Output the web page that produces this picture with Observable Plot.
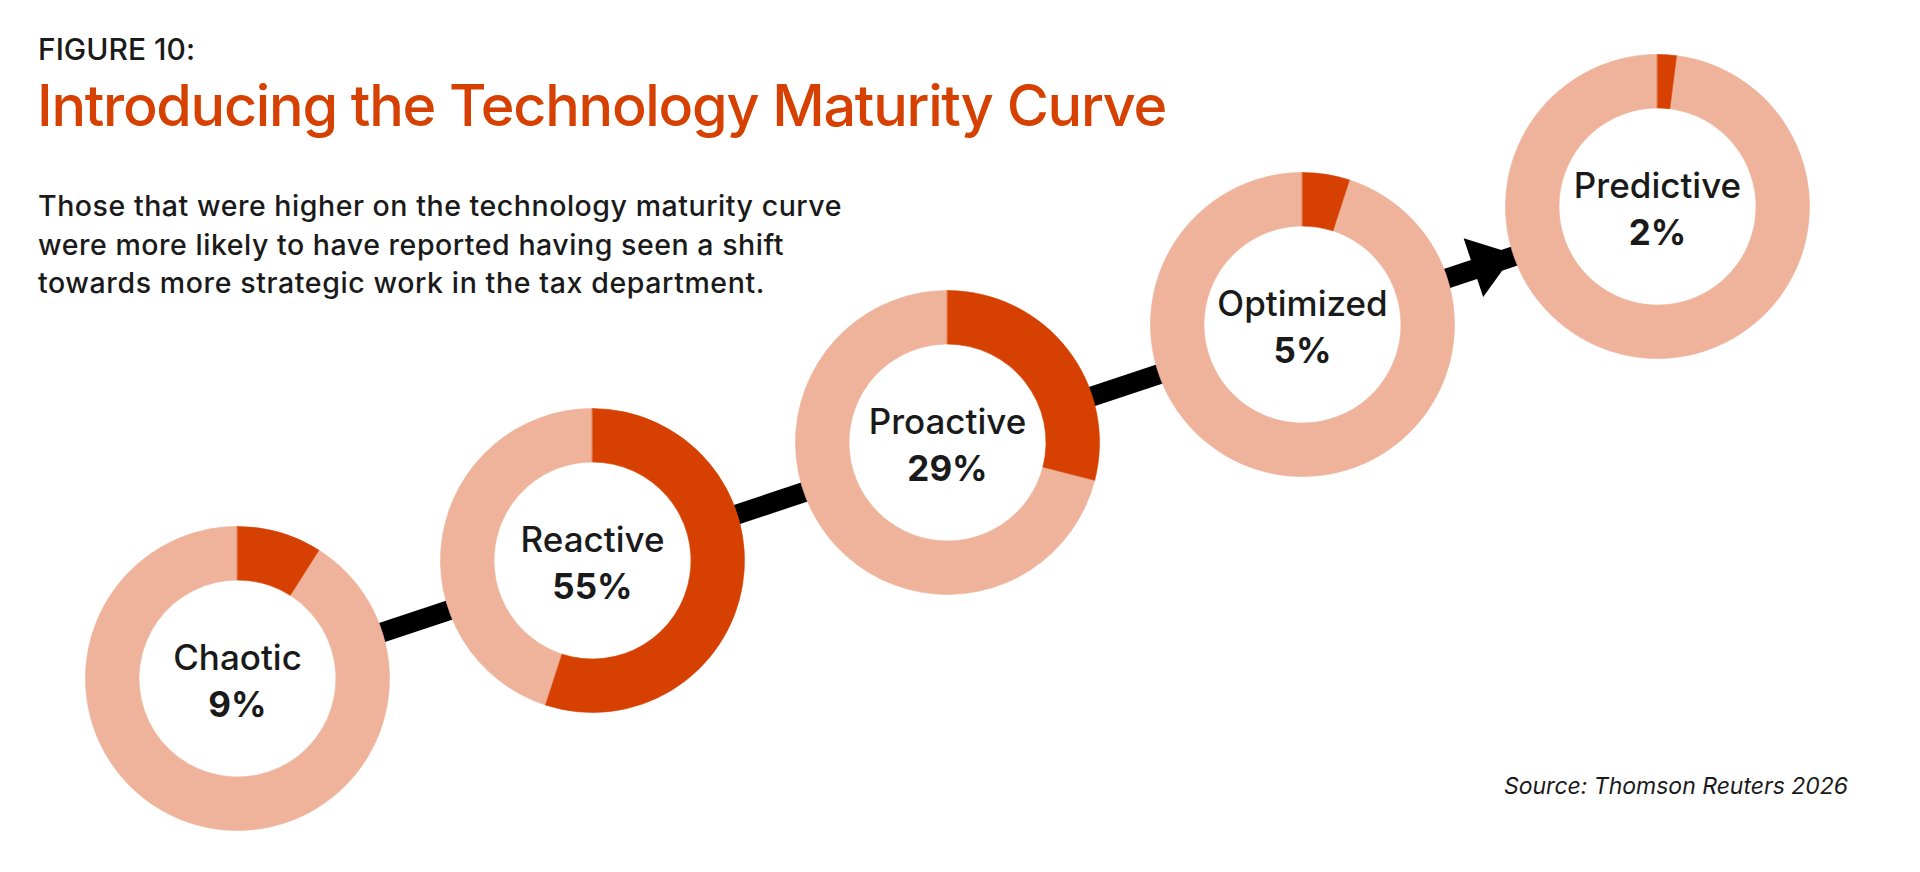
<!DOCTYPE html>
<html>
<head>
<meta charset="utf-8">
<script src="https://cdn.jsdelivr.net/npm/d3@7"></script>
<script src="https://cdn.jsdelivr.net/npm/@observablehq/plot@0.6"></script>
<style>
  html, body { margin: 0; padding: 0; background: #fff; }
  #wrap { position: relative; width: 1920px; height: 872px; overflow: hidden; font-family: Inter, "Noto Sans", sans-serif; color: #1a1a1a; }
  #wrap svg { position: absolute; left: 0; top: 0; }
  .t { position: absolute; white-space: nowrap; line-height: 1; }
  #fig { left: 38px; top: 34px; font-size: 30px; font-weight: 500; }
  #title { left: 37px; top: 77px; font-size: 57.5px; font-weight: 550; color: #D64000; }
  #sub { position: absolute; left: 38px; top: 187px; font-size: 28.5px; font-weight: 500; line-height: 38.5px; }
  #sub div { white-space: nowrap; }
  #src { right: 72px; top: 775px; font-size: 23px; font-style: italic; font-weight: 400; }
</style>
</head>
<body>
<div id="wrap"></div>
<script>
// ---- data ----
const stages = ["Chaotic", "Reactive", "Proactive", "Optimized", "Predictive"];
const shares = [9, 55, 29, 5, 2];
const arrowFrom = "Chaotic";
const arrowTo = "Predictive";
const figureLabel = "FIGURE 10:";
const titleText = "Introducing the Technology Maturity Curve";
const subtitleLines = [
  "Those that were higher on the technology maturity curve",
  "were more likely to have reported having seen a shift",
  "towards more strategic work in the tax department."
];
const sourceText = "Source: Thomson Reuters 2026";

// ---- layout / style ----
const W = 1920, H = 872;
const X_RANGE = [236, 1657];
const Y_RANGE = [678, 206];
const R_OUT = 152, R_IN = 98.5;
const DARK = "#D64000", LIGHT = "#EEB39A";

const table = stages.map((s, i) => ({stage: s, share: shares[i]}));

const ringShape = {
  draw(ctx, l) {
    const a0 = -Math.PI / 2, a1 = a0 + (l / 100) * 2 * Math.PI;
    ctx.moveTo(R_OUT * Math.cos(a0), R_OUT * Math.sin(a0));
    ctx.arc(0, 0, R_OUT, a0, a1);
    ctx.lineTo(R_IN * Math.cos(a1), R_IN * Math.sin(a1));
    ctx.arc(0, 0, R_IN, a1, a0, true);
    ctx.closePath();
  }
};
const headShape = {
  draw(ctx) {
    ctx.moveTo(0, -R_OUT + 1);
    ctx.lineTo(31, -R_OUT - 42);
    ctx.lineTo(-31, -R_OUT - 42);
    ctx.closePath();
  }
};
const dx = X_RANGE[0] - X_RANGE[1], dy = Y_RANGE[0] - Y_RANGE[1];
const backAngle = Math.atan2(dx, -dy) * 180 / Math.PI;

const chart = Plot.plot({
  width: W,
  height: H,
  margin: 0,
  x: {type: "point", domain: stages, range: X_RANGE, padding: 0, axis: null},
  y: {type: "point", domain: stages, range: Y_RANGE, padding: 0, axis: null},
  length: {type: "linear", domain: [0, 100], range: [0, 100]},
  style: {background: "transparent", overflow: "visible"},
  marks: [
    Plot.link([{from: arrowFrom, to: arrowTo}], {
      x1: "from", y1: "from", x2: "to", y2: "to",
      stroke: "#000", strokeWidth: 20, dy: 2
    }),
    Plot.vector([{at: arrowTo}], {
      x: "at", y: "at", anchor: "start", rotate: backAngle, length: 1,
      shape: headShape, fill: "#000", stroke: "none"
    }),
    Plot.dot(table, {x: "stage", y: "stage", r: R_IN + 1, fill: "#fff", stroke: "none"}),
    Plot.vector(table, {
      x: "stage", y: "stage", anchor: "start",
      length: d => 100 - d.share, rotate: d => d.share * 3.6,
      shape: ringShape, fill: LIGHT, stroke: LIGHT, strokeWidth: 0.6
    }),
    Plot.vector(table, {
      x: "stage", y: "stage", anchor: "start",
      length: "share", rotate: 0,
      shape: ringShape, fill: DARK, stroke: DARK, strokeWidth: 0.6
    }),
    Plot.text(table, {
      x: "stage", y: "stage", text: "stage", dy: -20,
      fontSize: 35, fontWeight: 500, fill: "#1a1a1a", fontFamily: "Inter"
    }),
    Plot.text(table, {
      x: "stage", y: "stage", text: d => d.share + "%", dy: 27,
      fontSize: 35, fontWeight: 700, fill: "#1a1a1a", fontFamily: "Inter"
    })
  ]
});

const wrap = document.getElementById("wrap");
wrap.appendChild(chart);

function addText(id, txt) {
  const d = document.createElement("div");
  d.className = "t"; d.id = id; d.textContent = txt;
  wrap.appendChild(d);
  return d;
}
const figEl = addText("fig", figureLabel);
const titleEl = addText("title", titleText);
const sub = document.createElement("div");
sub.id = "sub";
const subEls = subtitleLines.map(line => {
  const s = document.createElement("div");
  const sp = document.createElement("span");
  sp.textContent = line;
  s.appendChild(sp);
  sub.appendChild(s);
  return sp;
});
wrap.appendChild(sub);
const srcEl = addText("src", sourceText);

function fit(el, target) {
  el.style.display = "inline-block";
  const w = el.getBoundingClientRect().width;
  const n = el.textContent.length;
  el.style.letterSpacing = ((target - w) / n).toFixed(3) + "px";
}
fit(figEl, 157);
fit(titleEl, 1129);
fit(subEls[0], 804);
fit(subEls[1], 746);
fit(subEls[2], 727);
fit(srcEl, 344);
</script>
</body>
</html>
